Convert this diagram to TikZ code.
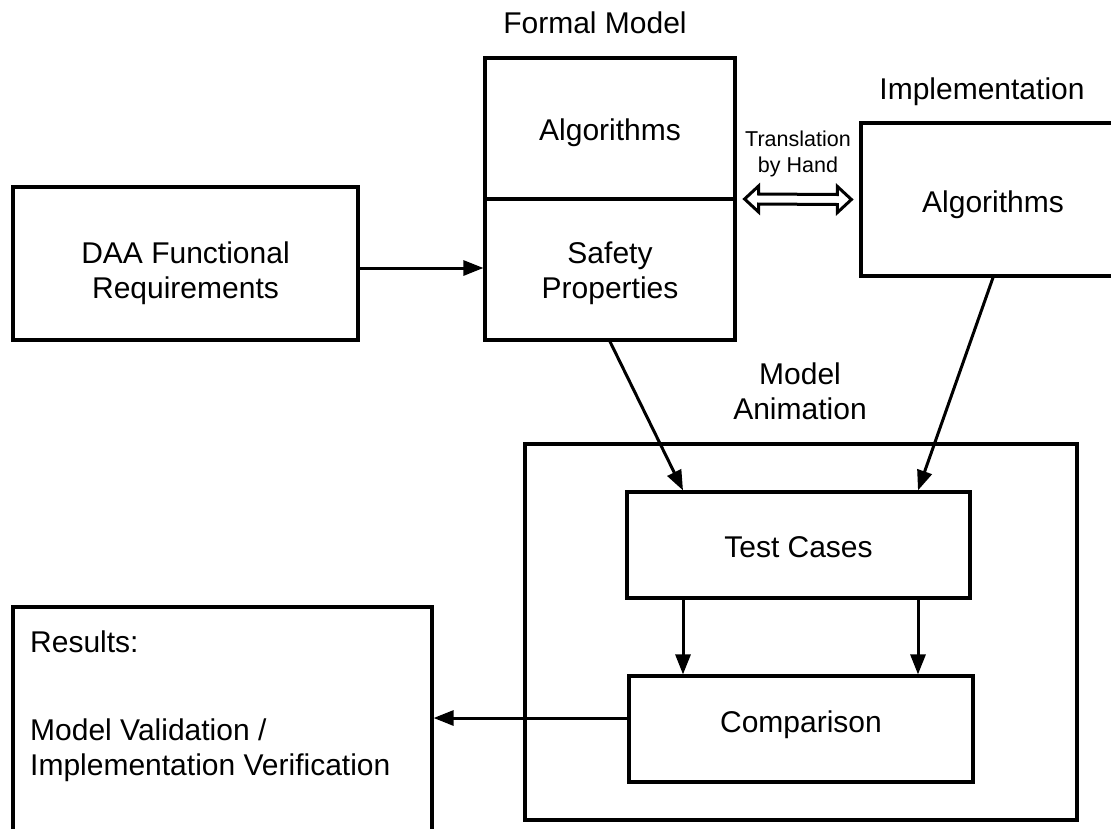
\documentclass[tikz,border=0pt]{standalone}
\usepackage{fontspec}
\setmainfont{Liberation Sans}
\usetikzlibrary{arrows.meta,calc}
\begin{document}
\begin{tikzpicture}[x=1pt,y=-1pt,
  box/.style={draw=black, line width=3.2pt, rectangle, inner sep=0pt},
  lbl/.style={font=\fontsize{30}{35}\selectfont, anchor=base, inner sep=0pt},
  small/.style={font=\fontsize{21.5}{26}\selectfont, anchor=base, inner sep=0pt},
  arr/.style={line width=3pt, -{Triangle[length=20pt,width=15pt]}},
  dbl/.style={draw=black, line width=3pt, line join=miter, fill=white}]
\clip (0,0) rectangle (1111,828);
\fill[white] (0,0) rectangle (1111,828);

% boxes
\node[box, minimum width=345pt, minimum height=153pt] (daa) at (185.5,263.5) {};
\node[box, minimum width=250pt, minimum height=282pt] (formal) at (610,199) {};
\draw[line width=3.2pt] (formal.west) -- (formal.east);
\node[box, minimum width=264pt, minimum height=153pt] (impl) at (993,199.5) {};
\node[box, minimum width=552pt, minimum height=376pt] (anim) at (801,632) {};
\node[box, minimum width=343pt, minimum height=106pt] (tests) at (798.5,545) {};
\node[box, minimum width=344pt, minimum height=106pt] (comp) at (801,729) {};
\node[box, minimum width=419pt, minimum height=293pt] (res) at (222.5,753.5) {};

% labels
\node[lbl] (tfm) at (595,33) {Formal Model};
\node[lbl] (timpl) at (982,99) {Implementation};
\node[small] (ttr1) at (798,146) {Translation};
\node[small] (ttr2) at (798,172) {by Hand};
\node[lbl] (tma1) at (800,384) {Model};
\node[lbl] (tma2) at (800,419) {Animation};
\node[lbl] (tdaa1) at (185.5,263) {DAA Functional};
\node[lbl] (tdaa2) at (185.5,298) {Requirements};
\node[lbl] (talg1) at (610,140) {Algorithms};
\node[lbl] (tsaf1) at (610,263) {Safety};
\node[lbl] (tsaf2) at (610,298) {Properties};
\node[lbl] (talg2) at (993,212) {Algorithms};
\node[lbl] (ttc) at (798.5,557) {Test Cases};
\node[lbl] (tcmp) at (801,732) {Comparison};
\node[lbl, anchor=base west] (tres1) at (30,652) {Results:};
\node[lbl, anchor=base west] (tres2) at (30,740) {Model Validation /};
\node[lbl, anchor=base west] (tres3) at (30,775) {Implementation Verification};

% connectors
\draw[arr] ([yshift=-4.5pt]daa.east) -- ([yshift=-4.5pt]daa.east -| formal.west);
\draw[arr] (formal.south) -- ([xshift=-115.5pt]tests.north);
\draw[arr] (impl.south) -- ([xshift=119.5pt]tests.north);
\draw[arr] ([xshift=-115.5pt]tests.south) -- ([xshift=-115.5pt]tests.south |- comp.north);
\draw[arr] ([xshift=119.5pt]tests.south) -- ([xshift=119.5pt]tests.south |- comp.north);
\draw[arr] ([yshift=11pt]comp.west) -- ([yshift=11pt]comp.west -| res.east);

% hollow double arrow (translation by hand)
\draw[dbl] ($(formal.east)+(8,0)$) -- ++(14,-13) -- ++(0,8)
  -- ($(impl.west)+(-22,-5)$) -- ++(0,-8) -- ($(impl.west)+(-8,0)$)
  -- ++(-14,13) -- ++(0,-8) -- ($(formal.east)+(22,5)$) -- ++(0,8) -- cycle;
\end{tikzpicture}
\end{document}
